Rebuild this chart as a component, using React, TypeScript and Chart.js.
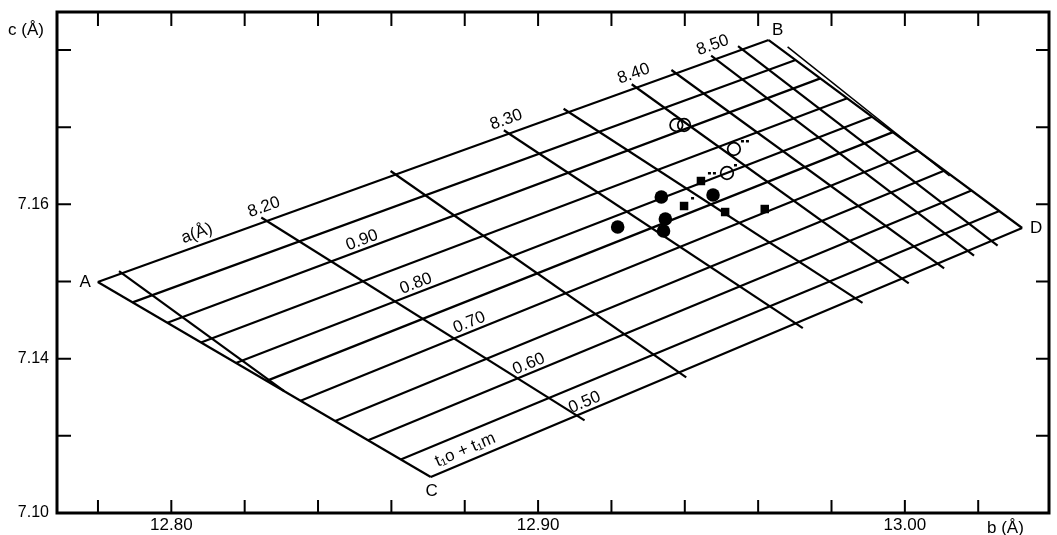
import React, { useEffect, useRef } from 'react';
import { Chart, registerables } from 'chart.js';

Chart.register(...registerables);

const FONT = "'Liberation Sans', Arial, Helvetica, sans-serif";

// ---- Axes (b in Å horizontally, c in Å vertically) ----
const B_MIN = 12.76883;
const B_MAX = 13.0393;
const C_MIN = 7.12;
const C_MAX = 7.18492;
const B_TICKS = [12.78, 12.8, 12.82, 12.84, 12.86, 12.88, 12.9, 12.92, 12.94, 12.96, 12.98, 13.0, 13.02];
const B_TICK_LABELS = ['', '12.80', '', '', '', '', '12.90', '', '', '', '', '13.00', ''];
const C_TICKS = [7.12, 7.13, 7.14, 7.15, 7.16, 7.17, 7.18];
const C_TICK_LABELS = ['7.10', '', '7.14', '', '7.16', '', ''];
const B_TITLE = 'b (Å)';
const C_TITLE = 'c (Å)';

// ---- Nomogram frame corners (b, c) ----
const CORNER_NAMES = ['A', 'B', 'C', 'D'];
const CORNER_B = [12.77995, 12.96287, 12.87073, 13.03198];
const CORNER_C = [7.14993, 7.18129, 7.12467, 7.15693];

// ---- t1o + t1m lines (from edge A-C to edge B-D) ----
const T_VALUES = [1.0, 0.95, 0.9, 0.85, 0.8, 0.75, 0.7, 0.65, 0.6, 0.55, 0.5];
const T_POS_AC = [0, 0.1045, 0.209, 0.31, 0.415, 0.507, 0.609, 0.713, 0.812, 0.91, 1];
const T_POS_BD = [0, 0.106, 0.204, 0.31, 0.408, 0.49, 0.588, 0.694, 0.8, 0.91, 1];
const T_LABELS = ['', '', '0.90', '', '0.80', '', '0.70', '', '0.60', '', '0.50'];
const T_TITLE = 't₁o + t₁m';

// ---- a lines (from edge A-B to edge C-D, first one ends on A-C) ----
const A_VALUES = [8.15, 8.2, 8.25, 8.3, 8.35, 8.4, 8.45, 8.5, 8.55];
const A_POS_AB = [0.036, 0.252, 0.444, 0.613, 0.702, 0.803, 0.862, 0.921, 0.961];
const A_END_EDGE = ['AC', 'CD', 'CD', 'CD', 'CD', 'CD', 'CD', 'CD', 'CD'];
const A_POS_END = [0.56, 0.247, 0.42, 0.617, 0.718, 0.797, 0.857, 0.908, 0.948];
const A_LABELS = ['', '8.20', '', '8.30', '', '8.40', '', '8.50', ''];
const A_TITLE = 'a(Å)';

// second stroke along the B-D edge
const EXTRA_B = [12.96802, 13.0122];
const EXTRA_C = [7.18039, 7.16367];

// ---- measured samples ----
const OPEN_B = [12.9377, 12.9398, 12.9534, 12.9515];
const OPEN_C = [7.17028, 7.17028, 7.16717, 7.16406];
const OPEN_MARKS = [0, 0, 2, 1];
const SQUARE_B = [12.9444, 12.9398, 12.951, 12.9618];
const SQUARE_C = [7.16302, 7.15978, 7.159, 7.15939];
const SQUARE_MARKS = [2, 1, 0, 0];
const FILLED_B = [12.9336, 12.9477, 12.9217, 12.9347, 12.9342];
const FILLED_C = [7.16095, 7.16121, 7.15706, 7.1581, 7.15654];

// label placement along t-lines (fraction of the line)
const T_LABEL_AT = [0, 0, 0.303, 0, 0.288, 0, 0.279, 0, 0.272, 0, 0.266];

type P = { x: number; y: number };
const corner = (n: string): P => {
  const i = CORNER_NAMES.indexOf(n);
  return { x: CORNER_B[i], y: CORNER_C[i] };
};
const lerp = (p: P, q: P, f: number): P => ({ x: p.x + (q.x - p.x) * f, y: p.y + (q.y - p.y) * f });
const onEdge = (edge: string, f: number): P => lerp(corner(edge[0]), corner(edge[1]), f);

function tLine(i: number): [P, P] {
  return [onEdge('AC', T_POS_AC[i]), onEdge('BD', T_POS_BD[i])];
}
function aLine(i: number): [P, P] {
  return [onEdge('AB', A_POS_AB[i]), onEdge(A_END_EDGE[i], A_POS_END[i])];
}

const lineDs = (pts: P[], w = 2.2) => ({
  data: pts,
  showLine: true,
  pointRadius: 0,
  pointHoverRadius: 0,
  borderColor: '#000',
  borderWidth: w,
  fill: false,
  order: 2,
});

function buildDatasets() {
  const ds: any[] = [];
  T_VALUES.forEach((_, i) => {
    const [p, q] = tLine(i);
    ds.push(lineDs([p, q]));
  });
  ds.push(lineDs([corner('A'), corner('C')]));
  ds.push(lineDs([corner('B'), corner('D')]));
  ds.push(lineDs([{ x: EXTRA_B[0], y: EXTRA_C[0] }, { x: EXTRA_B[1], y: EXTRA_C[1] }], 1.5));
  A_VALUES.forEach((_, i) => {
    const [p, q] = aLine(i);
    const s = lerp(p, q, -0.018);
    const e = A_END_EDGE[i] === 'CD' ? lerp(p, q, 1.025) : q;
    ds.push(lineDs([s, e]));
  });
  ds.push({
    data: FILLED_B.map((b, i) => ({ x: b, y: FILLED_C[i] })),
    pointStyle: 'circle',
    pointRadius: 6.8,
    backgroundColor: '#000',
    borderColor: '#000',
    borderWidth: 0,
    showLine: false,
    order: 0,
  });
  ds.push({
    data: SQUARE_B.map((b, i) => ({ x: b, y: SQUARE_C[i] })),
    pointStyle: 'rect',
    pointRadius: 6,
    backgroundColor: '#000',
    borderColor: '#000',
    borderWidth: 0,
    showLine: false,
    order: 0,
  });
  ds.push({
    data: OPEN_B.map((b, i) => ({ x: b, y: OPEN_C[i] })),
    pointStyle: 'circle',
    pointRadius: 6.3,
    backgroundColor: 'rgba(0,0,0,0)',
    borderColor: '#000',
    borderWidth: 1.7,
    showLine: false,
    order: 0,
  });
  return ds;
}

const overlayPlugin = {
  id: 'nomogramOverlay',
  afterDatasetsDraw(chart: any) {
    const ctx = chart.ctx;
    const xs = chart.scales.x;
    const ys = chart.scales.y;
    const px = (p: P) => ({ x: xs.getPixelForValue(p.x), y: ys.getPixelForValue(p.y) });
    const text = (s: string, at: { x: number; y: number }, ang: number, size: number) => {
      ctx.save();
      ctx.translate(at.x, at.y);
      ctx.rotate(ang);
      ctx.font = `${size}px ${FONT}`;
      ctx.fillStyle = '#000';
      ctx.textAlign = 'center';
      ctx.textBaseline = 'middle';
      ctx.fillText(s, 0, 0);
      ctx.restore();
    };
    const place = (p: P, q: P, f: number, along: number, up: number) => {
      const a = px(p);
      const b = px(q);
      const ang = Math.atan2(b.y - a.y, b.x - a.x);
      const base = { x: a.x + (b.x - a.x) * f, y: a.y + (b.y - a.y) * f };
      const d = { x: Math.cos(ang), y: Math.sin(ang) };
      const n = { x: Math.sin(ang), y: -Math.cos(ang) };
      return { at: { x: base.x + d.x * along + n.x * up, y: base.y + d.y * along + n.y * up }, ang };
    };

    const A = corner('A');
    const B = corner('B');
    A_LABELS.forEach((lab, i) => {
      if (!lab) return;
      const r = place(A, B, A_POS_AB[i], 2, 14);
      text(lab, r.at, r.ang, 17);
    });
    {
      const r = place(A, B, 0.151, 2, 12);
      text(A_TITLE, r.at, r.ang, 17);
    }
    T_LABELS.forEach((lab, i) => {
      if (!lab) return;
      const [p, q] = tLine(i);
      const r = place(p, q, T_LABEL_AT[i], 0, 9);
      text(lab, r.at, r.ang, 17);
    });
    {
      const r = place(corner('C'), corner('D'), 0.066, 0, 11.5);
      text(T_TITLE, r.at, r.ang, 17);
    }
    const off: any = { A: [-12.5, 0.5], B: [9, -9.5], C: [1, 14.5], D: [14, 0.5] };
    CORNER_NAMES.forEach((n) => {
      const c = px(corner(n));
      text(n, { x: c.x + off[n][0], y: c.y + off[n][1] }, 0, 17);
    });
    const marks = (bs: number[], cs: number[], ms: number[]) => {
      bs.forEach((b, i) => {
        const c = px({ x: b, y: cs[i] });
        for (let k = 0; k < ms[i]; k++) {
          ctx.fillStyle = '#000';
          ctx.fillRect(c.x + 7 + k * 5, c.y - 9, 3, 2.5);
        }
      });
    };
    marks(OPEN_B, OPEN_C, OPEN_MARKS);
    marks(SQUARE_B, SQUARE_C, SQUARE_MARKS);
  },
  afterDraw(chart: any) {
    const ctx = chart.ctx;
    const { left, right, top, bottom } = chart.chartArea;
    const xs = chart.scales.x;
    const ys = chart.scales.y;
    ctx.save();
    ctx.strokeStyle = '#000';
    ctx.lineWidth = 3;
    ctx.strokeRect(left, top, right - left, bottom - top);
    ctx.lineWidth = 2;
    ctx.beginPath();
    B_TICKS.forEach((v) => {
      const x = xs.getPixelForValue(v);
      ctx.moveTo(x, bottom);
      ctx.lineTo(x, bottom - 13);
      ctx.moveTo(x, top);
      ctx.lineTo(x, top + 14);
    });
    C_TICKS.forEach((v) => {
      const y = ys.getPixelForValue(v);
      if (y > bottom - 2 || y < top + 2) return;
      ctx.moveTo(left, y);
      ctx.lineTo(left + 14, y);
      ctx.moveTo(right, y);
      ctx.lineTo(right - 13, y);
    });
    ctx.stroke();
    ctx.fillStyle = '#000';
    ctx.font = `17px ${FONT}`;
    ctx.textAlign = 'left';
    ctx.textBaseline = 'alphabetic';
    ctx.fillText(C_TITLE, left - 49, top + 23);
    ctx.fillText(B_TITLE, right - 62, bottom + 20);
    ctx.restore();
  },
};

export default function App() {
  const ref = useRef<HTMLCanvasElement>(null);
  useEffect(() => {
    document.body.style.margin = '0';
    const canvas = ref.current;
    if (!canvas) return;
    const chart = new Chart(canvas, {
      type: 'scatter',
      data: { datasets: buildDatasets() },
      options: {
        responsive: false,
        animation: false,
        events: [],
        layout: { padding: { top: 12, right: 1, left: 0, bottom: 0 } },
        plugins: { legend: { display: false }, tooltip: { enabled: false }, title: { display: false } },
        scales: {
          x: {
            type: 'linear',
            position: 'bottom',
            min: B_MIN,
            max: B_MAX,
            afterBuildTicks: (s: any) => {
              s.ticks = B_TICKS.map((v) => ({ value: v }));
            },
            afterFit: (s: any) => {
              s.height = 22;
              s.paddingLeft = 0;
              s.paddingRight = 0;
              s.paddingTop = 0;
              s.paddingBottom = 0;
            },
            grid: { display: false, drawTicks: false },
            border: { display: false },
            ticks: {
              autoSkip: false,
              maxRotation: 0,
              minRotation: 0,
              padding: 2,
              color: '#000',
              font: { family: FONT, size: 17 },
              callback: (v: any) => {
                const i = B_TICKS.findIndex((t) => Math.abs(t - Number(v)) < 1e-6);
                return i >= 0 ? B_TICK_LABELS[i] : '';
              },
            },
          },
          y: {
            type: 'linear',
            position: 'left',
            min: C_MIN,
            max: C_MAX,
            afterBuildTicks: (s: any) => {
              s.ticks = C_TICKS.map((v) => ({ value: v }));
            },
            afterFit: (s: any) => {
              s.width = 57;
              s.paddingLeft = 0;
              s.paddingRight = 0;
              s.paddingTop = 0;
              s.paddingBottom = 0;
            },
            grid: { display: false, drawTicks: false },
            border: { display: false },
            ticks: {
              autoSkip: false,
              padding: 8,
              color: '#000',
              font: { family: FONT, size: 16 },
              callback: (v: any) => {
                const i = C_TICKS.findIndex((t) => Math.abs(t - Number(v)) < 1e-6);
                return i >= 0 ? C_TICK_LABELS[i] : '';
              },
            },
          },
        },
      } as any,
      plugins: [overlayPlugin],
    });
    return () => chart.destroy();
  }, []);
  return (
    <div style={{ position: 'absolute', left: 0, top: 0, width: 1057, height: 535, background: '#fff' }}>
      <canvas ref={ref} width={1057} height={535} style={{ display: 'block' }} />
    </div>
  );
}
